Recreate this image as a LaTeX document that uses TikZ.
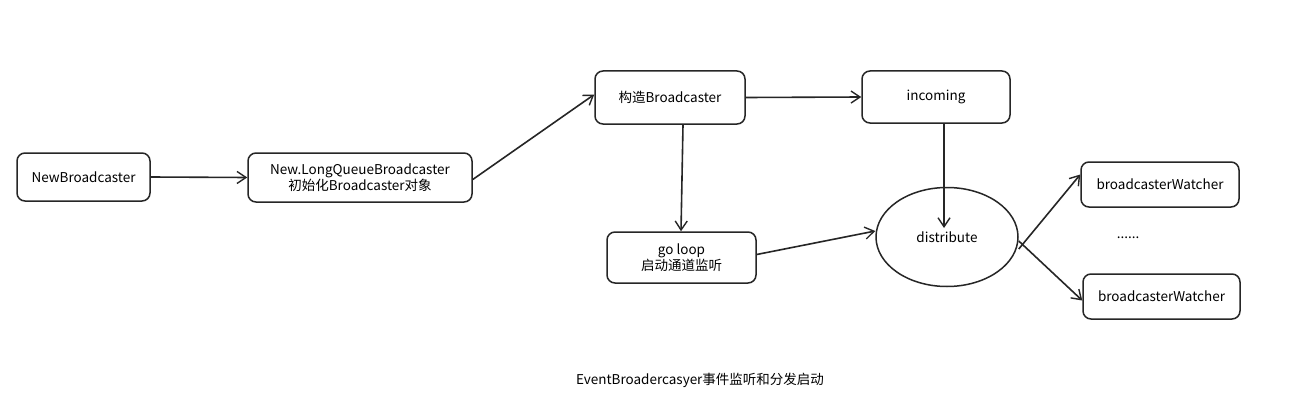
\documentclass[tikz,border=0pt]{standalone}
\usepackage{fontspec}
\setmainfont{Noto Sans CJK SC}
\usetikzlibrary{arrows.meta,shapes.geometric}
\tikzset{
  box/.style={draw=black!85, line width=1.5pt, rounded corners=8pt, align=center, font=\fontsize{13.5}{15.5}\selectfont, inner sep=0pt},
  conn/.style={draw=black!85, line width=1.6pt, -{Straight Barb[length=9pt,width=12pt,line width=1.4pt]}},
  lbl/.style={font=\fontsize{13.5}{15.5}\selectfont, inner sep=0pt}
}
\begin{document}
\begin{tikzpicture}[x=1pt,y=-1pt]
\useasboundingbox[fill=white] (0,0) rectangle (1299,412);
\node[box, minimum width=133pt, minimum height=48pt] (nb) at (83.5,177) {NewBroadcaster};
\node[box, minimum width=224pt, minimum height=49pt] (lq) at (360,177.5) {New.LongQueueBroadcaster\\初始化Broadcaster对象};
\node[box, minimum width=150pt, minimum height=53pt] (gz) at (670,97.5) {构造Broadcaster};
\node[box, minimum width=148pt, minimum height=52pt] (inc) at (936,97) {incoming};
\node[box, minimum width=149pt, minimum height=51pt] (gl) at (681.5,257.5) {go loop\\启动通道监听};
\node[draw=black!85, line width=1.5pt, ellipse, minimum width=142pt, minimum height=99pt, inner sep=0pt, font=\fontsize{13.5}{15.5}\selectfont] (dis) at (947,237) {distribute};
\node[box, minimum width=158pt, minimum height=45pt] (bw1) at (1160,184.5) {broadcasterWatcher};
\node[box, minimum width=157pt, minimum height=45pt] (bw2) at (1161.5,296.5) {broadcasterWatcher};
\node[lbl] (dots) at (1128,238) {......};
\node[lbl] (cap) at (700,380) {EventBroadercasyer事件监听和分发启动};
\coordinate (disTop) at (944,228);
\draw[conn] (nb.east) -- (lq.west);
\draw[conn] ([yshift=-2pt]lq.east) -- ([yshift=3pt]gz.west);
\draw[conn] (gz.east) -- (inc.west);
\draw[conn] ([xshift=13pt]gz.south) -- ([xshift=-0.5pt]gl.north);
\draw[conn] ([xshift=8pt]inc.south) -- (disTop);
\draw[conn] ([yshift=3pt]gl.east) -- ([yshift=6pt]dis.west);
\draw[conn] ([yshift=-12pt]dis.east) -- ([yshift=10pt]bw1.west);
\draw[conn] ([yshift=-4pt]dis.east) -- ([yshift=-4pt]bw2.west);
\end{tikzpicture}
\end{document}
